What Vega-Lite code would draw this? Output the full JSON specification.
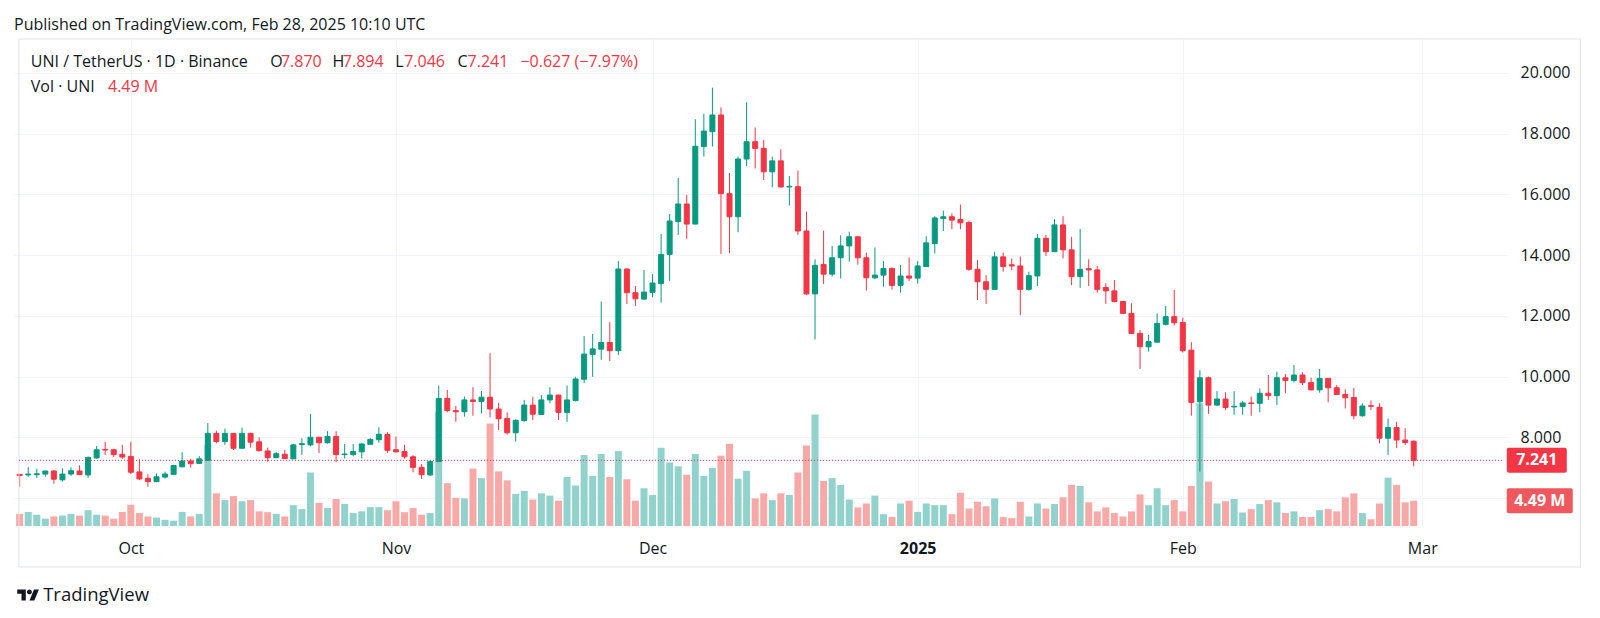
{
  "$schema": "https://vega.github.io/schema/vega-lite/v6.json",
  "width": 1494,
  "height": 487,
  "autosize": {"type": "none"},
  "padding": {"left": 14, "top": 39, "right": 92, "bottom": 92},
  "background": "#ffffff",
  "config": {
    "font": "Open Sans",
    "view": {"stroke": null}
  },
  "title": {
    "text": "Published on TradingView.com, Feb 28, 2025 10:10 UTC",
    "anchor": "start", "frame": "group", "fontSize": 16, "fontWeight": "normal",
    "color": "#131722", "offset": 8, "baseline": "bottom", "dy": 18
  },
  "datasets": {
    "ohlc": [
      {"date":"2024-09-18","open":6.78,"high":6.80,"low":6.37,"close":6.74,"volume":2.15},
      {"date":"2024-09-19","open":6.76,"high":7.02,"low":6.70,"close":6.79,"volume":2.5},
      {"date":"2024-09-20","open":6.77,"high":6.96,"low":6.66,"close":6.80,"volume":2.0},
      {"date":"2024-09-21","open":6.79,"high":6.90,"low":6.70,"close":6.89,"volume":1.3},
      {"date":"2024-09-22","open":6.89,"high":6.92,"low":6.47,"close":6.62,"volume":1.7},
      {"date":"2024-09-23","open":6.60,"high":6.98,"low":6.54,"close":6.79,"volume":1.85},
      {"date":"2024-09-24","open":6.79,"high":7.01,"low":6.73,"close":6.90,"volume":2.15},
      {"date":"2024-09-25","open":6.89,"high":7.08,"low":6.76,"close":6.77,"volume":1.85},
      {"date":"2024-09-26","open":6.76,"high":7.36,"low":6.66,"close":7.34,"volume":2.8},
      {"date":"2024-09-27","open":7.32,"high":7.71,"low":7.29,"close":7.59,"volume":2.0},
      {"date":"2024-09-28","open":7.60,"high":7.85,"low":7.42,"close":7.58,"volume":1.85},
      {"date":"2024-09-29","open":7.59,"high":7.62,"low":7.35,"close":7.43,"volume":1.3},
      {"date":"2024-09-30","open":7.44,"high":7.75,"low":7.29,"close":7.35,"volume":2.5},
      {"date":"2024-10-01","open":7.37,"high":7.85,"low":6.79,"close":6.85,"volume":3.77},
      {"date":"2024-10-02","open":6.86,"high":7.28,"low":6.59,"close":6.63,"volume":2.3},
      {"date":"2024-10-03","open":6.65,"high":6.78,"low":6.37,"close":6.54,"volume":1.7},
      {"date":"2024-10-04","open":6.54,"high":6.81,"low":6.52,"close":6.70,"volume":1.5},
      {"date":"2024-10-05","open":6.69,"high":6.87,"low":6.64,"close":6.79,"volume":1.1},
      {"date":"2024-10-06","open":6.78,"high":7.09,"low":6.77,"close":7.07,"volume":0.95},
      {"date":"2024-10-07","open":7.03,"high":7.51,"low":7.01,"close":7.22,"volume":2.5},
      {"date":"2024-10-08","open":7.22,"high":7.29,"low":7.00,"close":7.13,"volume":1.7},
      {"date":"2024-10-09","open":7.14,"high":7.38,"low":7.13,"close":7.29,"volume":2.15},
      {"date":"2024-10-10","open":7.24,"high":8.47,"low":7.23,"close":8.13,"volume":14.4},
      {"date":"2024-10-11","open":8.13,"high":8.22,"low":7.80,"close":7.86,"volume":5.8},
      {"date":"2024-10-12","open":7.86,"high":8.28,"low":7.75,"close":8.13,"volume":4.6},
      {"date":"2024-10-13","open":8.13,"high":8.14,"low":7.58,"close":7.64,"volume":5.3},
      {"date":"2024-10-14","open":7.64,"high":8.32,"low":7.61,"close":8.13,"volume":4.4},
      {"date":"2024-10-15","open":8.13,"high":8.15,"low":7.66,"close":7.84,"volume":4.6},
      {"date":"2024-10-16","open":7.85,"high":8.00,"low":7.53,"close":7.56,"volume":2.6},
      {"date":"2024-10-17","open":7.55,"high":7.66,"low":7.19,"close":7.33,"volume":2.45},
      {"date":"2024-10-18","open":7.33,"high":7.51,"low":7.31,"close":7.46,"volume":2.15},
      {"date":"2024-10-19","open":7.44,"high":7.59,"low":7.28,"close":7.30,"volume":1.7},
      {"date":"2024-10-20","open":7.29,"high":7.78,"low":7.29,"close":7.75,"volume":3.7},
      {"date":"2024-10-21","open":7.76,"high":7.97,"low":7.42,"close":7.79,"volume":3.0},
      {"date":"2024-10-22","open":7.75,"high":8.77,"low":7.70,"close":8.00,"volume":9.5},
      {"date":"2024-10-23","open":8.00,"high":8.01,"low":7.48,"close":7.82,"volume":4.1},
      {"date":"2024-10-24","open":7.82,"high":8.20,"low":7.79,"close":8.03,"volume":3.2},
      {"date":"2024-10-25","open":8.03,"high":8.20,"low":7.18,"close":7.43,"volume":4.8},
      {"date":"2024-10-26","open":7.43,"high":7.78,"low":7.30,"close":7.45,"volume":3.9},
      {"date":"2024-10-27","open":7.43,"high":7.78,"low":7.38,"close":7.53,"volume":2.3},
      {"date":"2024-10-28","open":7.52,"high":7.81,"low":7.30,"close":7.78,"volume":2.6},
      {"date":"2024-10-29","open":7.77,"high":7.97,"low":7.77,"close":7.93,"volume":3.35},
      {"date":"2024-10-30","open":7.92,"high":8.33,"low":7.82,"close":8.10,"volume":3.35},
      {"date":"2024-10-31","open":8.09,"high":8.17,"low":7.48,"close":7.57,"volume":2.8},
      {"date":"2024-11-01","open":7.59,"high":8.03,"low":7.50,"close":7.52,"volume":4.4},
      {"date":"2024-11-02","open":7.53,"high":7.75,"low":7.30,"close":7.36,"volume":2.45},
      {"date":"2024-11-03","open":7.36,"high":7.41,"low":6.85,"close":7.01,"volume":3.2},
      {"date":"2024-11-04","open":7.01,"high":7.12,"low":6.63,"close":6.77,"volume":2.0},
      {"date":"2024-11-05","open":6.76,"high":7.25,"low":6.74,"close":7.20,"volume":2.3},
      {"date":"2024-11-06","open":7.20,"high":9.70,"low":7.19,"close":9.28,"volume":20.3},
      {"date":"2024-11-07","open":9.28,"high":9.56,"low":8.82,"close":8.88,"volume":7.6},
      {"date":"2024-11-08","open":8.88,"high":9.03,"low":8.51,"close":8.84,"volume":5.0},
      {"date":"2024-11-09","open":8.84,"high":9.34,"low":8.68,"close":9.23,"volume":4.9},
      {"date":"2024-11-10","open":9.23,"high":9.65,"low":8.71,"close":9.18,"volume":10.2},
      {"date":"2024-11-11","open":9.18,"high":9.52,"low":8.79,"close":9.32,"volume":8.5},
      {"date":"2024-11-12","open":9.32,"high":10.77,"low":8.65,"close":8.93,"volume":18.2},
      {"date":"2024-11-13","open":8.93,"high":9.13,"low":8.24,"close":8.61,"volume":9.7},
      {"date":"2024-11-14","open":8.62,"high":8.82,"low":8.09,"close":8.15,"volume":8.1},
      {"date":"2024-11-15","open":8.15,"high":8.59,"low":7.86,"close":8.56,"volume":5.7},
      {"date":"2024-11-16","open":8.55,"high":9.23,"low":8.51,"close":9.06,"volume":6.2},
      {"date":"2024-11-17","open":9.06,"high":9.33,"low":8.57,"close":8.76,"volume":4.7},
      {"date":"2024-11-18","open":8.75,"high":9.39,"low":8.74,"close":9.23,"volume":5.8},
      {"date":"2024-11-19","open":9.23,"high":9.65,"low":9.12,"close":9.39,"volume":5.4},
      {"date":"2024-11-20","open":9.39,"high":9.40,"low":8.57,"close":8.82,"volume":4.5},
      {"date":"2024-11-21","open":8.82,"high":9.70,"low":8.51,"close":9.23,"volume":8.7},
      {"date":"2024-11-22","open":9.21,"high":9.99,"low":9.18,"close":9.92,"volume":7.2},
      {"date":"2024-11-23","open":9.91,"high":11.33,"low":9.78,"close":10.74,"volume":12.6},
      {"date":"2024-11-24","open":10.73,"high":11.40,"low":9.99,"close":10.91,"volume":8.9},
      {"date":"2024-11-25","open":10.90,"high":12.47,"low":10.55,"close":11.12,"volume":12.8},
      {"date":"2024-11-26","open":11.12,"high":11.79,"low":10.51,"close":10.85,"volume":8.7},
      {"date":"2024-11-27","open":10.85,"high":13.80,"low":10.71,"close":13.54,"volume":13.3},
      {"date":"2024-11-28","open":13.54,"high":13.55,"low":12.39,"close":12.76,"volume":8.3},
      {"date":"2024-11-29","open":12.76,"high":12.98,"low":12.32,"close":12.56,"volume":4.5},
      {"date":"2024-11-30","open":12.55,"high":13.51,"low":12.52,"close":12.78,"volume":6.7},
      {"date":"2024-12-01","open":12.77,"high":13.37,"low":12.61,"close":13.08,"volume":5.5},
      {"date":"2024-12-02","open":13.06,"high":14.69,"low":12.43,"close":14.02,"volume":13.9},
      {"date":"2024-12-03","open":14.02,"high":15.35,"low":13.15,"close":15.12,"volume":11.3},
      {"date":"2024-12-04","open":15.10,"high":16.54,"low":14.66,"close":15.68,"volume":10.6},
      {"date":"2024-12-05","open":15.68,"high":15.98,"low":14.53,"close":15.02,"volume":9.1},
      {"date":"2024-12-06","open":15.02,"high":18.47,"low":15.01,"close":17.58,"volume":12.8},
      {"date":"2024-12-07","open":17.57,"high":18.65,"low":17.24,"close":18.08,"volume":8.9},
      {"date":"2024-12-08","open":18.06,"high":19.51,"low":17.57,"close":18.61,"volume":10.3},
      {"date":"2024-12-09","open":18.61,"high":18.86,"low":14.03,"close":16.02,"volume":12.5},
      {"date":"2024-12-10","open":16.02,"high":16.70,"low":14.06,"close":15.26,"volume":14.6},
      {"date":"2024-12-11","open":15.26,"high":17.24,"low":14.75,"close":17.16,"volume":8.4},
      {"date":"2024-12-12","open":17.16,"high":19.03,"low":16.93,"close":17.73,"volume":9.8},
      {"date":"2024-12-13","open":17.73,"high":18.20,"low":16.85,"close":17.51,"volume":4.9},
      {"date":"2024-12-14","open":17.51,"high":17.79,"low":16.47,"close":16.74,"volume":5.8},
      {"date":"2024-12-15","open":16.74,"high":17.24,"low":16.23,"close":17.10,"volume":4.6},
      {"date":"2024-12-16","open":17.10,"high":17.48,"low":16.23,"close":16.24,"volume":5.8},
      {"date":"2024-12-17","open":16.24,"high":16.60,"low":15.63,"close":16.26,"volume":5.5},
      {"date":"2024-12-18","open":16.25,"high":16.78,"low":14.66,"close":14.79,"volume":9.5},
      {"date":"2024-12-19","open":14.79,"high":15.43,"low":12.68,"close":12.72,"volume":14.3},
      {"date":"2024-12-20","open":12.72,"high":13.86,"low":11.22,"close":13.66,"volume":19.8},
      {"date":"2024-12-21","open":13.69,"high":14.80,"low":13.05,"close":13.37,"volume":8.0},
      {"date":"2024-12-22","open":13.37,"high":14.30,"low":13.29,"close":13.91,"volume":8.5},
      {"date":"2024-12-23","open":13.91,"high":14.65,"low":13.23,"close":14.30,"volume":7.3},
      {"date":"2024-12-24","open":14.30,"high":14.77,"low":13.78,"close":14.60,"volume":4.7},
      {"date":"2024-12-25","open":14.60,"high":14.61,"low":13.68,"close":13.91,"volume":3.3},
      {"date":"2024-12-26","open":13.91,"high":14.08,"low":12.83,"close":13.25,"volume":4.0},
      {"date":"2024-12-27","open":13.25,"high":14.25,"low":13.20,"close":13.34,"volume":5.4},
      {"date":"2024-12-28","open":13.34,"high":13.80,"low":12.96,"close":13.56,"volume":2.1},
      {"date":"2024-12-29","open":13.56,"high":13.59,"low":12.86,"close":13.00,"volume":1.6},
      {"date":"2024-12-30","open":13.00,"high":13.67,"low":12.76,"close":13.31,"volume":4.0},
      {"date":"2024-12-31","open":13.31,"high":13.92,"low":13.15,"close":13.24,"volume":4.5},
      {"date":"2025-01-01","open":13.24,"high":13.80,"low":13.06,"close":13.64,"volume":2.5},
      {"date":"2025-01-02","open":13.62,"high":14.62,"low":13.61,"close":14.40,"volume":4.0},
      {"date":"2025-01-03","open":14.38,"high":15.28,"low":14.05,"close":15.22,"volume":3.7},
      {"date":"2025-01-04","open":15.20,"high":15.46,"low":14.79,"close":15.26,"volume":3.7},
      {"date":"2025-01-05","open":15.26,"high":15.37,"low":14.85,"close":15.15,"volume":2.1},
      {"date":"2025-01-06","open":15.17,"high":15.66,"low":14.85,"close":15.06,"volume":5.9},
      {"date":"2025-01-07","open":15.07,"high":15.13,"low":13.48,"close":13.53,"volume":3.1},
      {"date":"2025-01-08","open":13.53,"high":13.84,"low":12.52,"close":13.12,"volume":4.3},
      {"date":"2025-01-09","open":13.12,"high":13.34,"low":12.39,"close":12.87,"volume":3.5},
      {"date":"2025-01-10","open":12.87,"high":14.11,"low":12.86,"close":13.94,"volume":4.9},
      {"date":"2025-01-11","open":13.94,"high":14.08,"low":13.45,"close":13.62,"volume":1.6},
      {"date":"2025-01-12","open":13.68,"high":13.88,"low":13.50,"close":13.64,"volume":1.4},
      {"date":"2025-01-13","open":13.64,"high":13.95,"low":12.02,"close":12.87,"volume":4.3},
      {"date":"2025-01-14","open":12.87,"high":13.45,"low":12.83,"close":13.32,"volume":1.7},
      {"date":"2025-01-15","open":13.31,"high":14.69,"low":12.98,"close":14.55,"volume":4.0},
      {"date":"2025-01-16","open":14.55,"high":14.66,"low":13.97,"close":14.11,"volume":3.1},
      {"date":"2025-01-17","open":14.11,"high":15.18,"low":14.10,"close":14.99,"volume":3.9},
      {"date":"2025-01-18","open":14.99,"high":15.28,"low":13.89,"close":14.17,"volume":5.1},
      {"date":"2025-01-19","open":14.17,"high":14.60,"low":13.01,"close":13.29,"volume":7.3},
      {"date":"2025-01-20","open":13.29,"high":14.86,"low":12.92,"close":13.53,"volume":7.1},
      {"date":"2025-01-21","open":13.55,"high":13.86,"low":12.98,"close":13.51,"volume":4.2},
      {"date":"2025-01-22","open":13.51,"high":13.64,"low":12.76,"close":12.87,"volume":2.6},
      {"date":"2025-01-23","open":12.93,"high":13.07,"low":12.39,"close":12.82,"volume":3.3},
      {"date":"2025-01-24","open":12.82,"high":13.18,"low":12.44,"close":12.47,"volume":2.3},
      {"date":"2025-01-25","open":12.47,"high":12.48,"low":12.06,"close":12.08,"volume":1.7},
      {"date":"2025-01-26","open":12.08,"high":12.41,"low":11.40,"close":11.42,"volume":2.6},
      {"date":"2025-01-27","open":11.42,"high":11.53,"low":10.25,"close":10.98,"volume":5.6},
      {"date":"2025-01-28","open":10.98,"high":11.37,"low":10.82,"close":11.15,"volume":3.7},
      {"date":"2025-01-29","open":11.13,"high":12.08,"low":11.12,"close":11.75,"volume":6.7},
      {"date":"2025-01-30","open":11.72,"high":12.32,"low":11.68,"close":11.97,"volume":3.7},
      {"date":"2025-01-31","open":11.97,"high":12.85,"low":11.68,"close":11.77,"volume":4.6},
      {"date":"2025-02-01","open":11.78,"high":11.94,"low":10.79,"close":10.85,"volume":2.6},
      {"date":"2025-02-02","open":10.87,"high":11.13,"low":8.71,"close":9.15,"volume":7.1},
      {"date":"2025-02-03","open":9.17,"high":10.21,"low":6.87,"close":9.96,"volume":21.8},
      {"date":"2025-02-04","open":9.96,"high":10.00,"low":8.77,"close":9.06,"volume":7.9},
      {"date":"2025-02-05","open":9.06,"high":9.52,"low":9.03,"close":9.26,"volume":4.0},
      {"date":"2025-02-06","open":9.26,"high":9.48,"low":8.90,"close":8.98,"volume":4.4},
      {"date":"2025-02-07","open":9.00,"high":9.52,"low":8.74,"close":9.02,"volume":4.8},
      {"date":"2025-02-08","open":9.01,"high":9.19,"low":8.74,"close":9.13,"volume":2.4},
      {"date":"2025-02-09","open":9.13,"high":9.34,"low":8.71,"close":9.11,"volume":3.0},
      {"date":"2025-02-10","open":9.12,"high":9.61,"low":8.82,"close":9.45,"volume":3.9},
      {"date":"2025-02-11","open":9.45,"high":10.05,"low":9.23,"close":9.37,"volume":4.6},
      {"date":"2025-02-12","open":9.37,"high":10.16,"low":9.06,"close":9.96,"volume":4.2},
      {"date":"2025-02-13","open":9.96,"high":10.08,"low":9.45,"close":9.87,"volume":2.3},
      {"date":"2025-02-14","open":9.87,"high":10.38,"low":9.80,"close":10.05,"volume":2.6},
      {"date":"2025-02-15","open":10.05,"high":10.14,"low":9.72,"close":9.80,"volume":1.6},
      {"date":"2025-02-16","open":9.80,"high":9.96,"low":9.55,"close":9.56,"volume":1.6},
      {"date":"2025-02-17","open":9.56,"high":10.25,"low":9.47,"close":9.94,"volume":2.8},
      {"date":"2025-02-18","open":9.94,"high":9.95,"low":9.15,"close":9.63,"volume":3.0},
      {"date":"2025-02-19","open":9.63,"high":9.72,"low":9.39,"close":9.41,"volume":2.6},
      {"date":"2025-02-20","open":9.41,"high":9.58,"low":8.95,"close":9.30,"volume":5.1},
      {"date":"2025-02-21","open":9.31,"high":9.63,"low":8.59,"close":8.71,"volume":5.8},
      {"date":"2025-02-22","open":8.71,"high":9.12,"low":8.68,"close":9.03,"volume":2.3},
      {"date":"2025-02-23","open":9.04,"high":9.21,"low":8.90,"close":9.02,"volume":1.2},
      {"date":"2025-02-24","open":8.99,"high":9.12,"low":7.80,"close":7.97,"volume":4.0},
      {"date":"2025-02-25","open":7.97,"high":8.62,"low":7.42,"close":8.32,"volume":8.6},
      {"date":"2025-02-26","open":8.32,"high":8.51,"low":7.64,"close":7.91,"volume":7.3},
      {"date":"2025-02-27","open":7.91,"high":8.30,"low":7.75,"close":7.83,"volume":4.2},
      {"date":"2025-02-28","open":7.870,"high":7.894,"low":7.046,"close":7.241,"volume":4.49}
    ]
  },
  "layer": [
    {
      "layer": [
        {
          "data": {"name": "ohlc"},
          "mark": {"type": "bar", "size": 7, "clip": true},
          "encoding": {
            "x": {"field": "date", "type": "temporal", "axis": {"title": null}},
            "y": {"field": "volume", "type": "quantitative", "scale": {"domain": [0, 86.5], "nice": false, "zero": true}, "axis": null},
            "color": {"condition": {"test": "datum.close >= datum.open", "value": "#92d2cc"}, "value": "#f7a9a7"}
          }
        },
        {
          "data": {"values": [{}]},
          "mark": {"type": "point", "shape": "M-0.94,-0.379 H0.94 A0.06,0.06 0 0 1 1,-0.319 V0.319 A0.06,0.06 0 0 1 0.94,0.379 H-0.94 A0.06,0.06 0 0 1 -1,0.319 V-0.319 A0.06,0.06 0 0 1 -0.94,-0.379 Z", "size": 4356, "filled": true, "color": "#f0585f", "opacity": 1, "strokeWidth": 0},
          "encoding": {
            "x": {"datum": {"year": 2025, "month": 3, "date": 14, "hours": 17, "minutes": 44, "utc": true}, "type": "temporal", "axis": {"title": null}},
            "y": {"datum": 4.49, "type": "quantitative", "axis": null}
          }
        },
        {
          "data": {"values": [{}]},
          "mark": {"type": "text", "text": "4.49 M", "color": "#ffffff", "fontSize": 16, "fontWeight": "bold", "align": "center", "baseline": "middle"},
          "encoding": {
            "x": {"datum": {"year": 2025, "month": 3, "date": 14, "hours": 17, "minutes": 44, "utc": true}, "type": "temporal", "axis": {"title": null}},
            "y": {"datum": 4.49, "type": "quantitative", "axis": null}
          }
        }
      ]
    },
    {
      "layer": [
        {
          "data": {"name": "ohlc"},
          "mark": {"type": "rule", "strokeWidth": 1, "clip": true},
          "encoding": {
            "x": {
              "field": "date", "type": "temporal",
              "scale": {
                "type": "utc",
                "domain": [
                  {"year": 2024, "month": 9, "date": 17, "hours": 22, "minutes": 8, "utc": true},
                  {"year": 2025, "month": 3, "date": 10, "hours": 10, "minutes": 34, "utc": true}
                ]
              },
              "axis": {
                "orient": "bottom", "title": null,
                "values": [
                  {"year": 2024, "month": 10, "date": 1, "utc": true},
                  {"year": 2024, "month": 11, "date": 1, "utc": true},
                  {"year": 2024, "month": 12, "date": 1, "utc": true},
                  {"year": 2025, "month": 1, "date": 1, "utc": true},
                  {"year": 2025, "month": 2, "date": 1, "utc": true},
                  {"year": 2025, "month": 3, "date": 1, "utc": true}
                ],
                "labelExpr": "utcmonth(datum.value) == 0 ? utcFormat(datum.value, '%Y') : utcFormat(datum.value, '%b')",
                "labelFontWeight": {"condition": {"test": "utcmonth(datum.value) == 0", "value": "bold"}, "value": "normal"},
                "domain": false, "ticks": false, "tickSize": 0,
                "labelPadding": 22, "labelBaseline": "middle", "labelAlign": "center",
                "labelFontSize": 16, "labelColor": "#131722",
                "labelFlush": false, "labelOverlap": false, "labelBound": false,
                "grid": true, "gridColor": "#f0f3fa", "gridWidth": 1
              }
            },
            "y": {
              "field": "low", "type": "quantitative",
              "scale": {"domain": [5.08, 21.111], "nice": false, "zero": false},
              "axis": {
                "orient": "right", "title": null,
                "values": [6, 8, 10, 12, 14, 16, 18, 20],
                "labelExpr": "datum.value < 7 ? '' : format(datum.value, '.3f')",
                "domain": false, "ticks": false, "tickSize": 0,
                "labelPadding": 12, "labelAlign": "left", "labelBaseline": "middle",
                "labelFontSize": 16, "labelColor": "#131722",
                "labelOverlap": false, "labelBound": false, "labelFlush": false,
                "grid": true, "gridColor": "#f0f3fa", "gridWidth": 1
              }
            },
            "y2": {"field": "high"},
            "color": {"condition": {"test": "datum.close >= datum.open", "value": "#089981"}, "value": "#f23645"}
          }
        },
        {
          "data": {"name": "ohlc"},
          "mark": {"type": "bar", "size": 5, "strokeWidth": 1, "clip": true},
          "encoding": {
            "x": {"field": "date", "type": "temporal", "axis": {"title": null}},
            "y": {"field": "open", "type": "quantitative", "axis": {"title": null}},
            "y2": {"field": "close"},
            "fill": {"condition": {"test": "datum.close >= datum.open", "value": "#089981"}, "value": "#f23645"},
            "stroke": {"condition": {"test": "datum.close >= datum.open", "value": "#089981"}, "value": "#f23645"}
          }
        },
        {
          "data": {"values": [{}]},
          "mark": {"type": "rect", "fill": "#ffffff", "fillOpacity": 0, "stroke": "#e0e3eb", "strokeWidth": 1},
          "encoding": {
            "x": {"datum": {"year": 2024, "month": 9, "date": 17, "hours": 22, "minutes": 8, "utc": true}, "type": "temporal", "axis": {"title": null}},
            "x2": {"datum": {"year": 2025, "month": 3, "date": 19, "hours": 12, "utc": true}},
            "y": {"datum": 21.111, "type": "quantitative", "axis": {"title": null}},
            "y2": {"datum": 3.731}
          }
        },
        {
          "data": {"values": [{}]},
          "mark": {"type": "rule", "color": "#f23645", "strokeDash": [1, 2], "strokeWidth": 1},
          "encoding": {
            "x": {"datum": {"year": 2024, "month": 9, "date": 17, "hours": 22, "minutes": 8, "utc": true}, "type": "temporal", "axis": {"title": null}},
            "x2": {"datum": {"year": 2025, "month": 3, "date": 10, "hours": 10, "minutes": 34, "utc": true}},
            "y": {"datum": 7.241, "type": "quantitative", "axis": {"title": null}}
          }
        },
        {
          "data": {"values": [{}]},
          "mark": {"type": "point", "shape": "M-0.933,-0.4167 H0.933 A0.067,0.067 0 0 1 1,-0.35 V0.35 A0.067,0.067 0 0 1 0.933,0.4167 H-0.933 A0.067,0.067 0 0 1 -1,0.35 V-0.35 A0.067,0.067 0 0 1 -0.933,-0.4167 Z", "size": 3600, "filled": true, "color": "#f23645", "opacity": 1, "strokeWidth": 0},
          "encoding": {
            "x": {"datum": {"year": 2025, "month": 3, "date": 14, "hours": 9, "minutes": 24, "utc": true}, "type": "temporal", "axis": {"title": null}},
            "y": {"datum": 7.241, "type": "quantitative", "axis": {"title": null}}
          }
        },
        {
          "data": {"values": [{}]},
          "mark": {"type": "text", "text": "7.241", "color": "#ffffff", "fontSize": 16, "fontWeight": "bold", "align": "center", "baseline": "middle"},
          "encoding": {
            "x": {"datum": {"year": 2025, "month": 3, "date": 14, "hours": 9, "minutes": 24, "utc": true}, "type": "temporal", "axis": {"title": null}},
            "y": {"datum": 7.241, "type": "quantitative", "axis": {"title": null}}
          }
        },
        {
          "data": {"values": [{}]},
          "mark": {"type": "text", "text": "UNI / TetherUS · 1D · Binance", "color": "#131722", "fontSize": 16, "align": "left", "baseline": "middle"},
          "encoding": {
            "x": {"datum": {"year": 2024, "month": 9, "date": 19, "hours": 7, "minutes": 18, "utc": true}, "type": "temporal", "axis": {"title": null}},
            "y": {"datum": 20.364, "type": "quantitative", "axis": {"title": null}}
          }
        },
        {
          "data": {"values": [{}]},
          "mark": {"type": "text", "text": "O", "color": "#131722", "fontSize": 16, "align": "left", "baseline": "middle"},
          "encoding": {
            "x": {"datum": {"year": 2024, "month": 10, "date": 17, "hours": 7, "minutes": 22, "utc": true}, "type": "temporal", "axis": {"title": null}},
            "y": {"datum": 20.364, "type": "quantitative", "axis": {"title": null}}
          }
        },
        {
          "data": {"values": [{}]},
          "mark": {"type": "text", "text": "7.870", "color": "#f23645", "fontSize": 16, "align": "left", "baseline": "middle"},
          "encoding": {
            "x": {"datum": {"year": 2024, "month": 10, "date": 18, "hours": 13, "minutes": 10, "utc": true}, "type": "temporal", "axis": {"title": null}},
            "y": {"datum": 20.364, "type": "quantitative", "axis": {"title": null}}
          }
        },
        {
          "data": {"values": [{}]},
          "mark": {"type": "text", "text": "H", "color": "#131722", "fontSize": 16, "align": "left", "baseline": "middle"},
          "encoding": {
            "x": {"datum": {"year": 2024, "month": 10, "date": 24, "hours": 13, "minutes": 35, "utc": true}, "type": "temporal", "axis": {"title": null}},
            "y": {"datum": 20.364, "type": "quantitative", "axis": {"title": null}}
          }
        },
        {
          "data": {"values": [{}]},
          "mark": {"type": "text", "text": "7.894", "color": "#f23645", "fontSize": 16, "align": "left", "baseline": "middle"},
          "encoding": {
            "x": {"datum": {"year": 2024, "month": 10, "date": 25, "hours": 18, "minutes": 50, "utc": true}, "type": "temporal", "axis": {"title": null}},
            "y": {"datum": 20.364, "type": "quantitative", "axis": {"title": null}}
          }
        },
        {
          "data": {"values": [{}]},
          "mark": {"type": "text", "text": "L", "color": "#131722", "fontSize": 16, "align": "left", "baseline": "middle"},
          "encoding": {
            "x": {"datum": {"year": 2024, "month": 10, "date": 31, "hours": 22, "minutes": 18, "utc": true}, "type": "temporal", "axis": {"title": null}},
            "y": {"datum": 20.364, "type": "quantitative", "axis": {"title": null}}
          }
        },
        {
          "data": {"values": [{}]},
          "mark": {"type": "text", "text": "7.046", "color": "#f23645", "fontSize": 16, "align": "left", "baseline": "middle"},
          "encoding": {
            "x": {"datum": {"year": 2024, "month": 11, "date": 1, "hours": 23, "minutes": 7, "utc": true}, "type": "temporal", "axis": {"title": null}},
            "y": {"datum": 20.364, "type": "quantitative", "axis": {"title": null}}
          }
        },
        {
          "data": {"values": [{}]},
          "mark": {"type": "text", "text": "C", "color": "#131722", "fontSize": 16, "align": "left", "baseline": "middle"},
          "encoding": {
            "x": {"datum": {"year": 2024, "month": 11, "date": 8, "hours": 4, "minutes": 30, "utc": true}, "type": "temporal", "axis": {"title": null}},
            "y": {"datum": 20.364, "type": "quantitative", "axis": {"title": null}}
          }
        },
        {
          "data": {"values": [{}]},
          "mark": {"type": "text", "text": "7.241", "color": "#f23645", "fontSize": 16, "align": "left", "baseline": "middle"},
          "encoding": {
            "x": {"datum": {"year": 2024, "month": 11, "date": 9, "hours": 8, "minutes": 57, "utc": true}, "type": "temporal", "axis": {"title": null}},
            "y": {"datum": 20.364, "type": "quantitative", "axis": {"title": null}}
          }
        },
        {
          "data": {"values": [{}]},
          "mark": {"type": "text", "text": "−0.627 (−7.97%)", "color": "#f23645", "fontSize": 16, "align": "left", "baseline": "middle"},
          "encoding": {
            "x": {"datum": {"year": 2024, "month": 11, "date": 15, "hours": 13, "minutes": 15, "utc": true}, "type": "temporal", "axis": {"title": null}},
            "y": {"datum": 20.364, "type": "quantitative", "axis": {"title": null}}
          }
        },
        {
          "data": {"values": [{}]},
          "mark": {"type": "text", "text": "Vol · UNI", "color": "#131722", "fontSize": 16, "align": "left", "baseline": "middle"},
          "encoding": {
            "x": {"datum": {"year": 2024, "month": 9, "date": 19, "hours": 7, "minutes": 18, "utc": true}, "type": "temporal", "axis": {"title": null}},
            "y": {"datum": 19.521, "type": "quantitative", "axis": {"title": null}}
          }
        },
        {
          "data": {"values": [{}]},
          "mark": {"type": "text", "text": "4.49 M", "color": "#f23645", "fontSize": 16, "align": "left", "baseline": "middle"},
          "encoding": {
            "x": {"datum": {"year": 2024, "month": 9, "date": 28, "hours": 7, "minutes": 54, "utc": true}, "type": "temporal", "axis": {"title": null}},
            "y": {"datum": 19.521, "type": "quantitative", "axis": {"title": null}}
          }
        },
        {
          "data": {"values": [{}]},
          "mark": {"type": "point", "shape": "M-0.222,0.5 H-0.611 V-0.111 H-1 V-0.5 H-0.222 Z M0.556,0.5 L0.111,0.5 L0.528,-0.5 L0.972,-0.5 Z M-0.111,-0.278 A0.222,0.222 0 1 0 0.333,-0.278 A0.222,0.222 0 1 0 -0.111,-0.278 Z", "size": 484, "filled": true, "color": "#131722", "opacity": 1, "strokeWidth": 0},
          "encoding": {
            "x": {"datum": {"year": 2024, "month": 9, "date": 19, "hours": 0, "minutes": 0, "utc": true}, "type": "temporal", "axis": {"title": null}},
            "y": {"datum": 2.809, "type": "quantitative", "axis": {"title": null}}
          }
        },
        {
          "data": {"values": [{}]},
          "mark": {"type": "text", "text": "TradingView", "color": "#131722", "fontSize": 18.5, "align": "left", "baseline": "middle"},
          "encoding": {
            "x": {"datum": {"year": 2024, "month": 9, "date": 20, "hours": 18, "minutes": 0, "utc": true}, "type": "temporal", "axis": {"title": null}},
            "y": {"datum": 2.809, "type": "quantitative", "axis": {"title": null}}
          }
        }
      ]
    }
  ],
  "resolve": {"scale": {"y": "independent"}, "axis": {"y": "independent"}}
}
